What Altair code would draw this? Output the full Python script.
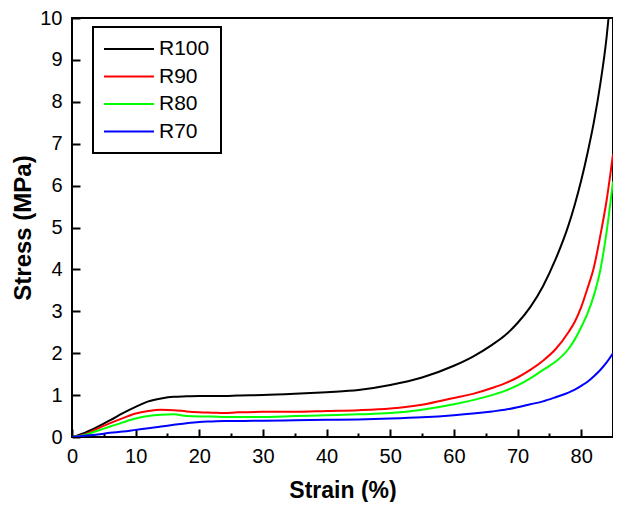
import altair as alt
import pandas as pd

# ---- data ----
strain = [0, 2, 4, 6, 8, 10, 12, 14, 16, 18, 20, 22, 24, 26, 30, 35, 40, 45, 50,
          55, 60, 63, 66, 68, 70, 72, 74, 76, 78, 79, 80, 81, 82, 83, 84]

r100 = [0, 0.10, 0.24, 0.40, 0.57, 0.72, 0.85, 0.92, 0.96, 0.97, 0.98, 0.98, 0.98, 0.99,
        1.00, 1.03, 1.07, 1.12, 1.24, 1.42, 1.70, 1.92, 2.20, 2.42, 2.72, 3.10, 3.60,
        4.25, 5.05, 5.55, 6.12, 6.78, 7.52, 8.42, 9.55]
r90 = [0, 0.06, 0.20, 0.33, 0.45, 0.56, 0.62, 0.65, 0.64, 0.61, 0.59, 0.58, 0.57, 0.59,
       0.60, 0.60, 0.62, 0.64, 0.68, 0.77, 0.93, 1.03, 1.17, 1.28, 1.42, 1.60, 1.82,
       2.10, 2.50, 2.75, 3.10, 3.55, 4.05, 4.80, 5.65]
r80 = [0, 0.05, 0.15, 0.25, 0.35, 0.44, 0.50, 0.53, 0.54, 0.50, 0.49, 0.49, 0.48, 0.48,
       0.48, 0.50, 0.52, 0.54, 0.57, 0.65, 0.78, 0.88, 1.00, 1.10, 1.23, 1.40, 1.60,
       1.80, 2.10, 2.33, 2.62, 2.95, 3.38, 3.98, 4.90]
r70 = [0, 0.03, 0.06, 0.10, 0.13, 0.17, 0.21, 0.25, 0.29, 0.33, 0.36, 0.37, 0.38, 0.38,
       0.39, 0.40, 0.41, 0.42, 0.44, 0.47, 0.52, 0.56, 0.61, 0.65, 0.71, 0.78, 0.85,
       0.95, 1.06, 1.13, 1.22, 1.32, 1.45, 1.60, 1.78]

# final points (black leaves the frame at the top)
end_strain = {"R100": 84.3, "R90": 85, "R80": 85, "R70": 85}
end_stress = {"R100": 10.0, "R90": 6.75, "R80": 6.10, "R70": 2.00}

series = ["R100", "R90", "R80", "R70"]
colors = ["#000000", "#ff0000", "#00ff00", "#0000ff"]
values = {"R100": r100, "R90": r90, "R80": r80, "R70": r70}

x_major = [0, 10, 20, 30, 40, 50, 60, 70, 80]
x_minor = [5, 15, 25, 35, 45, 55, 65, 75]
y_major = [0, 1, 2, 3, 4, 5, 6, 7, 8, 9, 10]

rows = []
for s in series:
    for i, (x, y) in enumerate(zip(strain, values[s])):
        rows.append({"series": s, "strain": x, "stress": y, "order": i})
    rows.append({"series": s, "strain": end_strain[s], "stress": end_stress[s],
                 "order": len(strain)})
df = pd.DataFrame(rows)

FONT = "Liberation Sans"
xscale = alt.Scale(domain=[0, 85], nice=False, zero=False)
yscale = alt.Scale(domain=[0, 10], nice=False, zero=False)

lines = alt.Chart(df).mark_line(strokeWidth=2, interpolate="monotone", clip=True).encode(
    x=alt.X("strain:Q", scale=xscale,
            axis=alt.Axis(orient="bottom", values=x_major, title="Strain (%)",
                          offset=-8, tickSize=8, tickWidth=2, tickColor="black",
                          domain=False, grid=False, labelFlush=False,
                          labelOverlap=False, labelPadding=9, labelFontSize=20,
                          labelFont=FONT, labelColor="black",
                          titleFont=FONT, titleFontSize=23, titleFontWeight="bold",
                          titleColor="black", titlePadding=13)),
    y=alt.Y("stress:Q", scale=yscale,
            axis=alt.Axis(orient="left", values=y_major, title="Stress (MPa)",
                          offset=-8, tickSize=8, tickWidth=2, tickColor="black",
                          domain=False, grid=False, labelFlush=False,
                          labelOverlap=False, labelPadding=10, labelFontSize=20,
                          labelFont=FONT, labelColor="black",
                          titleFont=FONT, titleFontSize=24, titleFontWeight="bold",
                          titleColor="black", titlePadding=4)),
    color=alt.Color("series:N",
                    scale=alt.Scale(domain=series, range=colors),
                    legend=alt.Legend(title=None, orient="none", legendX=21, legendY=9,
                                      symbolType="M-2.5,0H2.5", symbolSize=400,
                                      symbolStrokeWidth=2, symbolOffset=14,
                                      labelOffset=19, labelFontSize=21, labelFont=FONT,
                                      labelColor="black", rowPadding=6.5, padding=11,
                                      strokeColor="black", fillColor="white")),
    order="order:Q",
)

minor = alt.Chart(pd.DataFrame({"strain": x_minor})).mark_point(opacity=0).encode(
    x=alt.X("strain:Q", scale=xscale,
            axis=alt.Axis(orient="bottom", values=x_minor, title=None, labels=False,
                          offset=-4, tickSize=4, tickWidth=2, tickColor="black",
                          domain=False, grid=False)),
    y=alt.value(0),
)

chart = alt.layer(lines, minor).resolve_axis(x="independent").properties(
    width=541, height=419,
    autosize=alt.AutoSizeParams(type="none"),
    padding={"left": 64, "top": 10, "right": 0, "bottom": 65},
    background="white",
).configure_view(stroke="black", strokeWidth=2).configure_legend(strokeWidth=2, cornerRadius=0)

chart.save("out.html", embed_options={"renderer": "svg", "actions": False})
